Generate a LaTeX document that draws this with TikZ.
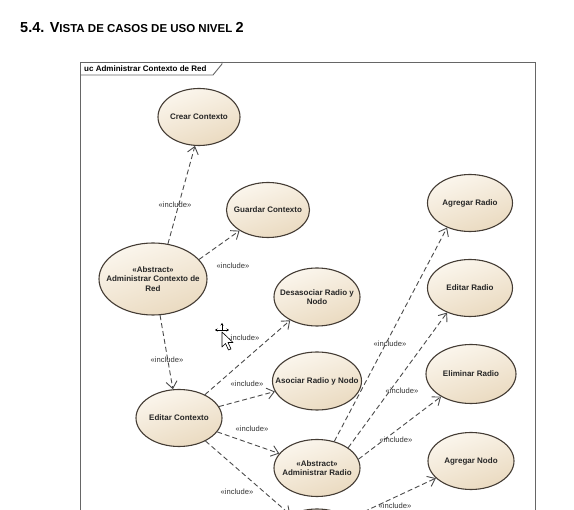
\documentclass[tikz,border=0pt]{standalone}
\usepackage{fontspec}
\setmainfont{Liberation Sans}
\usetikzlibrary{shapes.geometric,arrows.meta}
\definecolor{ucin}{RGB}{251,246,237}
\definecolor{ucout}{RGB}{234,218,192}
\definecolor{ucline}{RGB}{68,60,52}
\definecolor{dashc}{RGB}{75,75,75}
\tikzset{
  uc/.style={ellipse, draw=ucline, line width=1.1pt, inner sep=0pt,
    top color=ucin, bottom color=ucout, shading angle=20},
  uct/.style={font=\fontsize{8}{9.5}\selectfont\bfseries, align=center, inner sep=0pt, text=black!85},
  inc/.style={draw=dashc, line width=0.9pt, dash pattern=on 5pt off 3pt,
    -{Straight Barb[length=7pt,width=11pt,line width=0.9pt]}},
  lbl/.style={font=\fontsize{7.6}{8}\selectfont, text=black!80, inner sep=0pt}
}
\begin{document}
\begin{tikzpicture}[x=1pt,y=-1pt]
\useasboundingbox (0,0) rectangle (574,510);
\fill[white] (0,0) rectangle (574,510);
\clip (0,0) rectangle (574,510);
% title
\node[anchor=base west, inner sep=0pt, font=\bfseries] (title) at (20,33)
  {\fontsize{14.5}{15}\selectfont 5.4. V\fontsize{11.5}{13}\selectfont ISTA DE CASOS DE USO NIVEL \fontsize{14.5}{15}\selectfont 2};
% frame
\draw[draw=black!60, line width=0.9pt] (80,62) rectangle (535,530);
\draw[draw=black!60, line width=0.9pt] (80,75) -- (213,75) -- (222,64) -- (222,62);
\node[anchor=west, inner sep=0pt, font=\fontsize{8}{9}\selectfont\bfseries] (ftitle) at (84,68.5) {uc Administrar Contexto de Red};
% use cases
\node[uc, minimum width=82pt, minimum height=57pt, label={[uct]center:Crear Contexto}] (crear) at (199,117) {};
\node[uc, minimum width=83pt, minimum height=55pt, label={[uct]center:Guardar Contexto}] (guardar) at (268,210) {};
\node[uc, minimum width=108pt, minimum height=72pt, label={[uct]center:{«Abstract»\\Administrar Contexto de\\Red}}] (admctx) at (153,279) {};
\node[uc, minimum width=86pt, minimum height=57pt, label={[uct]center:Editar Contexto}] (editctx) at (179,418) {};
\node[uc, minimum width=86pt, minimum height=58pt, label={[uct]center:{Desasociar Radio y\\Nodo}}] (desas) at (317,297) {};
\node[uc, minimum width=89pt, minimum height=58pt, label={[uct]center:Asociar Radio y Nodo}] (asoc) at (317,381) {};
\node[uc, minimum width=86pt, minimum height=57pt, label={[uct]center:{«Abstract»\\Administrar Radio}}] (admradio) at (317,468) {};
\node[uc, minimum width=86pt, minimum height=58pt] (bottomuc) at (317,538) {};
\node[uc, minimum width=85pt, minimum height=57pt, label={[uct]center:Agregar Radio}] (agrradio) at (470,203) {};
\node[uc, minimum width=85pt, minimum height=57pt, label={[uct]center:Editar Radio}] (edradio) at (470,288) {};
\node[uc, minimum width=90pt, minimum height=59pt, label={[uct]center:Eliminar Radio}] (elimradio) at (471,374) {};
\node[uc, minimum width=86pt, minimum height=57pt, label={[uct]center:Agregar Nodo}] (agrnodo) at (471,461) {};
% include connectors
\draw[inc] (admctx.67) -- (crear.-98);
\draw[inc] (admctx.23) -- (guardar.-144);
\draw[inc] (admctx.-79) -- (editctx.102);
\draw[inc] (editctx.42) -- (desas.-139);
\draw[inc] (editctx.16) -- (asoc.-166);
\draw[inc] (editctx.-20) -- (admradio.159);
\draw[inc] (editctx.-41) -- (bottomuc.139);
\draw[inc] (admradio.57) -- (agrradio.-133);
\draw[inc] (admradio.33) -- (edradio.-133);
\draw[inc] (admradio.12) -- (elimradio.-143);
\draw[inc] (bottomuc.31) -- (agrnodo.-154);
% labels
\node[lbl] (l1) at (175,205) {«include»};
\node[lbl] (l2) at (233,266) {«include»};
\node[lbl] (l3) at (167,360) {«include»};
\node[lbl] (l4) at (243,338) {«include»};
\node[lbl] (l5) at (247,384) {«include»};
\node[lbl] (l6) at (252,429) {«include»};
\node[lbl] (l7) at (237,492) {«include»};
\node[lbl] (l8) at (390,344) {«include»};
\node[lbl] (l9) at (402,391) {«include»};
\node[lbl] (l10) at (396,440) {«include»};
\node[lbl] (l11) at (395,506) {«include»};
% mouse cursor (screenshot artefact)
\begin{scope}[line width=0.6pt]
  \fill[white] (214,323) rectangle (230,338);
  \draw[-{Stealth[length=2.5pt,width=3pt]}] (222,330) -- (222,323);
  \draw[-{Stealth[length=2.5pt,width=3pt]}] (222,330) -- (215,330);
  \draw[-{Stealth[length=2.5pt,width=3pt]}] (222,330) -- (229,330);
  \draw[fill=white, line join=round] (222,332) -- (222,347) -- (225.5,343.5) -- (228.5,350) -- (231,349) -- (228,342.5) -- (233,342.5) -- cycle;
\end{scope}
\end{tikzpicture}
\end{document}
